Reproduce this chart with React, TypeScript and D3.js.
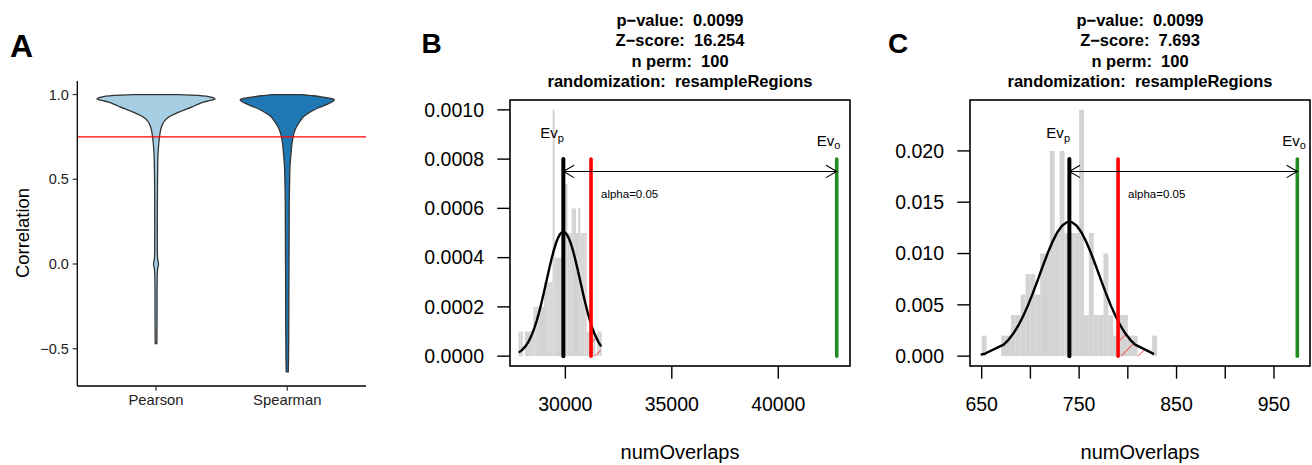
import React from 'react';
import * as d3 from 'd3';

const W = 1312;
const H = 465;
const FONT = '"Liberation Sans", Arial, Helvetica, sans-serif';

// ---------- Panel A: violin data ----------
const violinCategories = ['Pearson', 'Spearman'];
const violinFills = ['#A6CEE3', '#1F78B4'];
const pearsonCorr = [1.0, 0.995, 0.985, 0.975, 0.965, 0.955, 0.94, 0.927, 0.9, 0.878, 0.86, 0.838, 0.81, 0.779, 0.75, 0.71, 0.65, 0.6, 0.5, 0.3, 0.1, 0.03, 0.0, -0.03, -0.1, -0.3, -0.47];
const pearsonDensity = [0.39, 0.71, 0.93, 1.0, 0.92, 0.8, 0.69, 0.61, 0.41, 0.27, 0.19, 0.13, 0.093, 0.071, 0.059, 0.046, 0.034, 0.029, 0.025, 0.022, 0.022, 0.027, 0.042, 0.027, 0.019, 0.017, 0.014];
const spearmanCorr = [1.0, 0.993, 0.986, 0.97, 0.958, 0.945, 0.926, 0.906, 0.886, 0.866, 0.836, 0.807, 0.778, 0.748, 0.7, 0.67, 0.57, 0.47, 0.37, 0.1, -0.02, -0.2, -0.41, -0.55, -0.637];
const spearmanDensity = [0.237, 0.44, 0.576, 0.797, 0.763, 0.69, 0.559, 0.436, 0.339, 0.266, 0.203, 0.153, 0.119, 0.097, 0.076, 0.068, 0.046, 0.039, 0.034, 0.031, 0.029, 0.027, 0.025, 0.022, 0.017];
const corrThreshold = 0.75;
const corrTicks = [-0.5, 0, 0.5, 1.0];
const corrDomain = [-0.72, 1.08];

// ---------- Panel B: permutation test ----------
const nPerm = 100;
const histStartB = 27800;
const binWidthB = 100;
const histCountsB = [1, 1, 0, 1, 1, 1, 1, 2, 2, 2, 2, 2, 3, 3, 3, 3, 10, 4, 4, 4, 4, 7, 7, 5, 5, 6, 6, 5, 6, 5, 5, 5, 1, 1, 1, 1, 0, 1, 1];
const permRangeB = [27853, 31661];
const permMeanB = 29906;
const permSdB = 790;
const alphaB = 31206;
const evoB = 42747;
const xDomainB = [27400, 43370];
const yDomainB = [-0.00004, 0.00104];
const yTicksB = [0, 0.0002, 0.0004, 0.0006, 0.0008, 0.001];
const xTicksB = [30000, 35000, 40000];
const xLabelsB = [30000, 35000, 40000];
const titleB = ['p\u2212value:  0.0099', 'Z\u2212score:  16.254', 'n perm:  100', 'randomization:  resampleRegions'];

// ---------- Panel C: permutation test ----------
const histStartC = 650;
const binWidthC = 5;
const histCountsC = [1, 0, 0, 0, 1, 1, 2, 2, 3, 4, 4, 3, 5, 5, 10, 6, 10, 6, 6, 6, 12, 2, 6, 2, 2, 5, 2, 1, 2, 2, 1, 1, 0, 0, 0, 1];
const permRangeC = [650, 826];
const permMeanC = 740;
const permSdC = 30.45;
const alphaC = 790;
const evoC = 974;
const xDomainC = [638, 987];
const yDomainC = [-0.00096, 0.02496];
const yTicksC = [0, 0.005, 0.01, 0.015, 0.02];
const xTicksC = [650, 700, 750, 800, 850, 900, 950];
const xLabelsC = [650, 750, 850, 950];
const titleC = ['p\u2212value:  0.0099', 'Z\u2212score:  7.693', 'n perm:  100', 'randomization:  resampleRegions'];

function ViolinPanel() {
  const left = 77.3, right = 366, top = 81, bottom = 386;
  const y = d3.scaleLinear().domain(corrDomain).range([bottom, top]);
  const x = d3.scalePoint<string>().domain(violinCategories).range([left, right]).padding(0.6);
  const maxHalf = 0.45 * x.step();
  const series = [
    { corr: pearsonCorr, dens: pearsonDensity },
    { corr: spearmanCorr, dens: spearmanDensity },
  ];
  const fmt = d3.format('.1f');
  return (
    <g>
      <text x={10} y={56.7} fontSize={32} fontWeight="bold">A</text>
      {series.map((s, i) => {
        const cx = x(violinCategories[i]) as number;
        const pts: [number, number][] = s.corr.map((c, j) => [c, s.dens[j]]);
        const area = d3.area<[number, number]>()
          .y(d => y(d[0]))
          .x0(d => cx - d[1] * maxHalf)
          .x1(d => cx + d[1] * maxHalf)
          .curve(d3.curveCatmullRom);
        return <path key={i} d={area(pts) || ''} fill={violinFills[i]} stroke="#333333" strokeWidth={1.3} />;
      })}
      <line x1={left} x2={right} y1={y(corrThreshold)} y2={y(corrThreshold)} stroke="#FF0000" strokeWidth={1.4} />
      <line x1={left} x2={left} y1={top} y2={bottom} stroke="#000" strokeWidth={1.3} />
      <line x1={left} x2={right} y1={bottom} y2={bottom} stroke="#000" strokeWidth={1.3} />
      {corrTicks.map(t => (
        <g key={t}>
          <line x1={left - 4.7} x2={left} y1={y(t)} y2={y(t)} stroke="#333" strokeWidth={1.2} />
          <text x={left - 8.5} y={y(t)} dy="0.35em" textAnchor="end" fontSize={14.5} fill="#222">{fmt(t)}</text>
        </g>
      ))}
      {violinCategories.map(c => (
        <g key={c}>
          <line x1={x(c)} x2={x(c)} y1={bottom} y2={bottom + 4.7} stroke="#333" strokeWidth={1.2} />
          <text x={x(c)} y={405} textAnchor="middle" fontSize={14.8} fill="#222">{c}</text>
        </g>
      ))}
      <text transform="translate(28.5,233) rotate(-90)" textAnchor="middle" fontSize={18.4}>Correlation</text>
    </g>
  );
}

type PermProps = {
  id: string;
  letter: string;
  letterX: number;
  left: number;
  counts: number[];
  start: number;
  width: number;
  range: number[];
  mean: number;
  sd: number;
  alpha: number;
  evo: number;
  xDomain: number[];
  yDomain: number[];
  yTicks: number[];
  xTicks: number[];
  xLabels: number[];
  yFmt: string;
  title: string[];
  evoTextDx: number;
};

function PermPanel(p: PermProps) {
  const left = p.left, right = p.left + 340, top = 100, bottom = 366;
  const x = d3.scaleLinear().domain(p.xDomain).range([left, right]);
  const y = d3.scaleLinear().domain(p.yDomain).range([bottom, top]);
  const dens = p.counts.map(c => c / (nPerm * p.width));
  const yMax = Math.max(d3.max(dens) as number, 1 / (p.sd * Math.sqrt(2 * Math.PI)));
  const dnorm = (v: number) => Math.exp(-0.5 * ((v - p.mean) / p.sd) ** 2) / (p.sd * Math.sqrt(2 * Math.PI));
  const mids: number[] = [];
  p.counts.forEach((c, i) => {
    const m = p.start + (i + 0.5) * p.width;
    if (c > 0 && m > p.range[0] && m < p.range[1]) mids.push(m);
  });
  const curveX = [p.range[0], ...mids, p.range[1]];
  const line = d3.line<number>().x(v => x(v)).y(v => y(dnorm(v)));
  const hatchX = [p.alpha, ...curveX.filter(v => v > p.alpha)];
  const hatchPts: [number, number][] = [[x(p.alpha), y(0)], ...hatchX.map(v => [x(v), y(dnorm(v))] as [number, number]), [x(p.range[1]), y(0)]];
  const fmtY = d3.format(p.yFmt);
  const lineTop = y(0.8 * yMax);
  const arrowY = y(0.75 * yMax);
  const xp = x(p.mean), xo = x(p.evo), xa = x(p.alpha);
  const pid = 'hatch' + p.id;
  return (
    <g>
      <defs>
        <pattern id={pid} patternUnits="userSpaceOnUse" width={12} height={12} patternTransform="rotate(45)">
          <line x1={0} y1={0} x2={0} y2={12} stroke="#FF0000" strokeWidth={1.1} />
        </pattern>
        <clipPath id={'clip' + p.id}>
          <rect x={left} y={top} width={340} height={bottom - top} />
        </clipPath>
      </defs>
      <text x={p.letterX} y={53.3} fontSize={28} fontWeight="bold">{p.letter}</text>
      {p.title.map((t, i) => (
        <text key={i} x={(left + right) / 2} y={25.8 + i * 20.4} textAnchor="middle" fontSize={16.5} fontWeight="bold" style={{ whiteSpace: 'pre' }}>{t}</text>
      ))}
      <g clipPath={`url(#clip${p.id})`}>
        {p.counts.map((c, i) => c > 0 ? (
          <rect key={i} x={x(p.start + i * p.width)} width={x(p.start + (i + 1) * p.width) - x(p.start + i * p.width)}
            y={y(dens[i])} height={y(0) - y(dens[i])} fill="#D3D3D3" />
        ) : null)}
        <polygon points={hatchPts.map(d => d.join(',')).join(' ')} fill={`url(#${pid})`} stroke="none" />
        <path d={line(curveX) || ''} fill="none" stroke="#000" strokeWidth={2.4} strokeLinejoin="round" strokeLinecap="round" />
        <line x1={xa} x2={xa} y1={y(0)} y2={lineTop} stroke="#FF0000" strokeWidth={3.6} strokeLinecap="round" />
        <line x1={xp} x2={xp} y1={y(0)} y2={lineTop} stroke="#000" strokeWidth={4} strokeLinecap="round" />
        <line x1={xo} x2={xo} y1={y(0)} y2={lineTop} stroke="#228B22" strokeWidth={3.6} strokeLinecap="round" />
        <line x1={xp} x2={xo} y1={arrowY} y2={arrowY} stroke="#000" strokeWidth={1.1} />
        <polyline points={`${xp + 10.7},${arrowY - 6.2} ${xp},${arrowY} ${xp + 10.7},${arrowY + 6.2}`} fill="none" stroke="#000" strokeWidth={1.1} />
        <polyline points={`${xo - 10.7},${arrowY - 6.2} ${xo},${arrowY} ${xo - 10.7},${arrowY + 6.2}`} fill="none" stroke="#000" strokeWidth={1.1} />
      </g>
      <text x={xa + 10} y={198} fontSize={11.5}>alpha=0.05</text>
      <text x={xp - 23} y={138.3} fontSize={15}>Ev<tspan fontSize={11} dy={4}>p</tspan></text>
      <text x={xo + p.evoTextDx} y={146} fontSize={15}>Ev<tspan fontSize={11} dy={3}>o</tspan></text>
      <rect x={left} y={top} width={340} height={bottom - top} fill="none" stroke="#000" strokeWidth={1.6} />
      {p.yTicks.map(t => (
        <g key={t}>
          <line x1={left - 12.7} x2={left} y1={y(t)} y2={y(t)} stroke="#000" strokeWidth={1.4} />
          <text x={left - 26} y={y(t)} dy="0.35em" textAnchor="end" fontSize={19.5}>{fmtY(t)}</text>
        </g>
      ))}
      {p.xTicks.map(t => (
        <line key={t} x1={x(t)} x2={x(t)} y1={bottom} y2={bottom + 12.7} stroke="#000" strokeWidth={1.4} />
      ))}
      {p.xLabels.map(t => (
        <text key={t} x={x(t)} y={410.5} textAnchor="middle" fontSize={19.5}>{String(t)}</text>
      ))}
      <text x={(left + right) / 2} y={459} textAnchor="middle" fontSize={20}>numOverlaps</text>
    </g>
  );
}

export default function App() {
  return (
    <svg width={W} height={H} style={{ position: 'absolute', left: 0, top: 0, background: '#fff' }} fontFamily={FONT}>
      <rect width={W} height={H} fill="#fff" />
      <ViolinPanel />
      <PermPanel id="B" letter="B" letterX={421.5} left={510} counts={histCountsB} start={histStartB} width={binWidthB}
        range={permRangeB} mean={permMeanB} sd={permSdB} alpha={alphaB} evo={evoB} xDomain={xDomainB} yDomain={yDomainB}
        yTicks={yTicksB} xTicks={xTicksB} xLabels={xLabelsB} yFmt=".4f" title={titleB} evoTextDx={-20} />
      <PermPanel id="C" letter="C" letterX={888} left={970} counts={histCountsC} start={histStartC} width={binWidthC}
        range={permRangeC} mean={permMeanC} sd={permSdC} alpha={alphaC} evo={evoC} xDomain={xDomainC} yDomain={yDomainC}
        yTicks={yTicksC} xTicks={xTicksC} xLabels={xLabelsC} yFmt=".3f" title={titleC} evoTextDx={-15} />
    </svg>
  );
}
